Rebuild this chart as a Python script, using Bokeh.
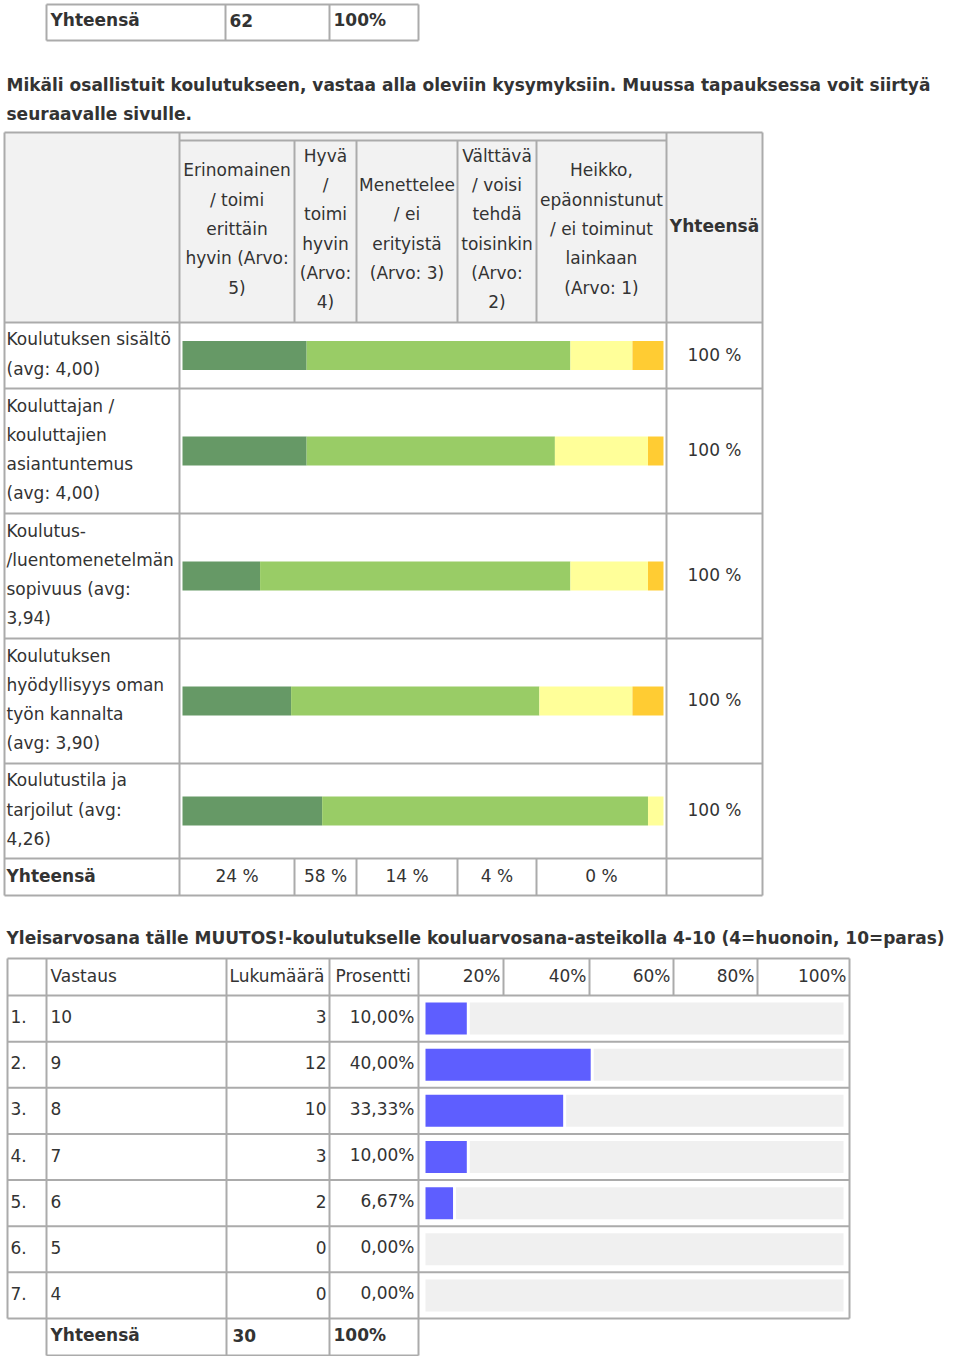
from bokeh.plotting import figure
from bokeh.models import Range1d
from bokeh.embed import file_html
from bokeh.resources import INLINE
from bokeh.core.properties import value

# ---------------- data ----------------
prev_total_cells = ["Yhteensä", "62", "100%"]

intro_lines = [
    "Mikäli osallistuit koulutukseen, vastaa alla oleviin kysymyksiin. Muussa tapauksessa voit siirtyä",
    "seuraavalle sivulle.",
]

scale_headers = [
    ["Erinomainen", "/ toimi", "erittäin", "hyvin (Arvo:", "5)"],
    ["Hyvä", "/", "toimi", "hyvin", "(Arvo:", "4)"],
    ["Menettelee", "/ ei", "erityistä", "(Arvo: 3)"],
    ["Välttävä", "/ voisi", "tehdä", "toisinkin", "(Arvo:", "2)"],
    ["Heikko,", "epäonnistunut", "/ ei toiminut", "lainkaan", "(Arvo: 1)"],
]
total_header = "Yhteensä"

row_labels = [
    ["Koulutuksen sisältö", "(avg: 4,00)"],
    ["Kouluttajan /", "kouluttajien", "asiantuntemus", "(avg: 4,00)"],
    ["Koulutus-", "/luentomenetelmän", "sopivuus (avg:", "3,94)"],
    ["Koulutuksen", "hyödyllisyys oman", "työn kannalta", "(avg: 3,90)"],
    ["Koulutustila ja", "tarjoilut (avg:", "4,26)"],
]
cnt_arvo5 = [8, 8, 5, 7, 9]
cnt_arvo4 = [17, 16, 20, 16, 21]
cnt_arvo3 = [4, 6, 5, 6, 1]
cnt_arvo2 = [2, 1, 1, 2, 0]
cnt_arvo1 = [0, 0, 0, 0, 0]
scale_colors = ["#669966", "#99CC66", "#FFFF99", "#FFCC33", "#FF9933"]

grade_title = "Yleisarvosana tälle MUUTOS!-koulutukselle kouluarvosana-asteikolla 4-10 (4=huonoin, 10=paras)"
grade_header = ["Vastaus", "Lukumäärä", "Prosentti"]
grade_ticks = ["20%", "40%", "60%", "80%", "100%"]
grade_answers = ["10", "9", "8", "7", "6", "5", "4"]
grade_counts = [3, 12, 10, 3, 2, 0, 0]

# ---------------- styling / layout ----------------
FONT = "DejaVu Sans"
FS = "17px"
TXT = "#333333"
GRID = "#ABABAB"
HEAD_BG = "#F2F2F2"
BAR_BLUE = "#5E5EFF"
BAR_BG = "#F0F0F0"
LW = 2

p = figure(width=952, height=1356, x_range=Range1d(0, 952), y_range=Range1d(1356, 0),
           output_backend="svg", toolbar_location=None, min_border=0,
           x_axis_type=None, y_axis_type=None)
p.grid.visible = False
p.outline_line_color = None
p.background_fill_color = "white"

texts = {}


def add_text(x, y, t, align="left", bold=False):
    key = (align, bold)
    d = texts.setdefault(key, dict(x=[], y=[], text=[]))
    d["x"].append(x)
    d["y"].append(y)
    d["text"].append(t)


segs = dict(x0=[], y0=[], x1=[], y1=[])


def hline(y, xa, xb):
    segs["x0"].append(xa); segs["x1"].append(xb); segs["y0"].append(y); segs["y1"].append(y)


def vline(x, ya, yb):
    segs["x0"].append(x); segs["x1"].append(x); segs["y0"].append(ya); segs["y1"].append(yb)


LINE_H = 29.3

# ---- top partial table ----
top_cols = [46, 225, 329, 418]
hline(4, 46, 418); hline(40, 46, 418)
for x in top_cols:
    vline(x, 4, 40)
for i, t in enumerate(prev_total_cells):
    add_text(top_cols[i] + 4, 19.5, t, bold=True)

# ---- intro ----
for i, t in enumerate(intro_lines):
    add_text(6, 84.5 + i * LINE_H, t, bold=True)

# ---- matrix table ----
MX0, MXL, MXR, MXT = 4, 179, 762, 666
M_TOP, M_BAND, M_HEAD = 132, 140, 322
col_edges = [179, 294, 356, 457, 536, 666]
row_edges = [322, 388, 513, 638, 763, 858]
M_BOT = 895

p.quad(left=[MX0], right=[MXR], top=[M_TOP], bottom=[M_HEAD], fill_color=HEAD_BG, line_color=None)

hline(M_TOP, MX0, MXR)
hline(M_BAND, MXL, MXT)
for y in row_edges:
    hline(y, MX0, MXR)
hline(M_BOT, MX0, MXR)
for x in [MX0, MXL, MXT, MXR]:
    vline(x, M_TOP, M_BOT)
for x in col_edges[1:-1]:
    vline(x, M_BAND, M_HEAD)
    vline(x, row_edges[-1], M_BOT)

head_cy = 228.5
for j, lines in enumerate(scale_headers):
    cx = (col_edges[j] + col_edges[j + 1]) / 2
    n = len(lines)
    for k, t in enumerate(lines):
        add_text(cx, head_cy + (k - (n - 1) / 2) * LINE_H, t, align="center")
add_text((MXT + MXR) / 2, head_cy - 3, total_header, align="center", bold=True)

counts = [cnt_arvo5, cnt_arvo4, cnt_arvo3, cnt_arvo2, cnt_arvo1]
BAR_L, BAR_R, BAR_H = 182, 663, 29
grand = 0
for r, lines in enumerate(row_labels):
    top, bot = row_edges[r], row_edges[r + 1]
    cy = (top + bot) / 2
    n = len(lines)
    for k, t in enumerate(lines):
        add_text(6, cy - 1.5 + (k - (n - 1) / 2) * LINE_H, t)
    row_vals = [c[r] for c in counts]
    tot = sum(row_vals)
    grand += tot
    acc = 0
    for j, v in enumerate(row_vals):
        if v == 0:
            acc += v
            continue
        left = BAR_L + (BAR_R - BAR_L) * acc / tot
        acc += v
        right = BAR_L + (BAR_R - BAR_L) * acc / tot
        p.hbar(y=[cy], left=[left], right=[right], height=BAR_H, fill_color=scale_colors[j], line_color=None)
    add_text((MXT + MXR) / 2, cy - 1, f"{round(100 * tot / tot)} %", align="center")

tot_y = (row_edges[-1] + M_BOT) / 2
add_text(6, tot_y - 1, "Yhteensä", bold=True)
for j, c in enumerate(counts):
    cx = (col_edges[j] + col_edges[j + 1]) / 2
    add_text(cx, tot_y - 1, f"{round(100 * sum(c) / grand)} %", align="center")

# ---- grade section ----
add_text(6, 937, grade_title, bold=True)

G_TOP, G_HEAD, G_ROWS_BOT, G_BOT = 958, 995, 1318, 1355
tick_edges = [418, 503, 589, 673, 757, 849]
n_rows = len(grade_answers)
rh = (G_ROWS_BOT - G_HEAD) / n_rows
g_row_edges = [G_HEAD + i * rh for i in range(n_rows + 1)]

hline(G_TOP, 7, 849)
for y in g_row_edges:
    hline(y, 7, 849)
hline(G_BOT, 46, 418)
for x in [7, 849]:
    vline(x, G_TOP, G_ROWS_BOT)
for x in [46, 226, 329, 418]:
    vline(x, G_TOP, G_BOT)
for x in tick_edges[1:-1]:
    vline(x, G_TOP, G_HEAD)

hy = (G_TOP + G_HEAD) / 2 - 1
add_text(50, hy, grade_header[0])
add_text(229, hy, grade_header[1])
add_text(335, hy, grade_header[2])
for j, t in enumerate(grade_ticks):
    add_text(tick_edges[j + 1] - 3, hy, t, align="right")

total_n = sum(grade_counts)
GB_L, GB_FULL, GB_END, GB_H = 425, 413, 843, 32
for i, (a, c) in enumerate(zip(grade_answers, grade_counts)):
    cy = (g_row_edges[i] + g_row_edges[i + 1]) / 2
    pct = 100 * c / total_n
    ty = cy - 2
    add_text(10, ty, f"{i + 1}.")
    add_text(50, ty, a)
    add_text(326, ty, str(c), align="right")
    add_text(414, ty, f"{pct:.2f}%".replace(".", ","), align="right")
    right = GB_L + GB_FULL * pct / 100
    bg_left = right + 3 if c > 0 else GB_L
    p.hbar(y=[cy], left=[bg_left], right=[GB_END], height=GB_H, fill_color=BAR_BG, line_color=None)
    if c > 0:
        p.hbar(y=[cy], left=[GB_L], right=[right], height=GB_H, fill_color=BAR_BLUE, line_color=None)

gy = (G_ROWS_BOT + G_BOT) / 2 - 2
add_text(50, gy, "Yhteensä", bold=True)
add_text(232, gy, str(total_n), bold=True)
add_text(333, gy, "100%", bold=True)

# ---- draw lines and texts ----
p.segment(x0="x0", y0="y0", x1="x1", y1="y1", source=segs, line_color=GRID, line_width=LW)

for (align, bold), d in texts.items():
    p.text(x="x", y="y", text="text", source=d, text_font=value(FONT), text_font_size=FS,
           text_align=align, text_baseline="middle", text_color=TXT,
           text_font_style="bold" if bold else "normal")

open("out.html", "w").write(file_html(p, INLINE))
